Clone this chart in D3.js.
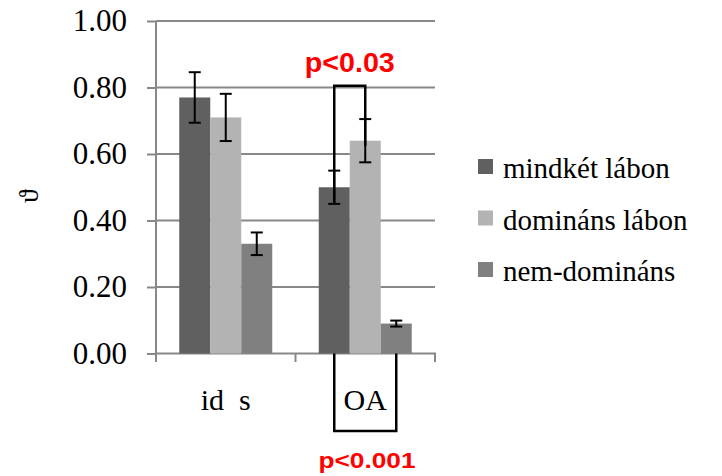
<!DOCTYPE html>
<html><head><meta charset="utf-8">
<script src="https://cdn.jsdelivr.net/npm/d3@7"></script>
</head><body style="margin:0">
<svg id="c" width="722" height="476"></svg>
<script>
const categories = ["id  s", "OA"];
const seriesNames = ["mindkét lábon", "domináns lábon", "nem-domináns"];
const seriesColors = ["#606060", "#b3b3b3", "#808080"];
const values = [[0.77, 0.71, 0.33], [0.50, 0.64, 0.09]];
const errors = [[0.076, 0.071, 0.034], [0.05, 0.065, 0.009]];
const yTicks = [0, 0.2, 0.4, 0.6, 0.8, 1.0];
const yLabel = "\u03d1";

const svg = d3.select("#c");
const y = d3.scaleLinear().domain([0, 1]).range([353.5, 21]);
const x = d3.scaleBand().domain(categories).range([156, 435]).padding(0);
const x1 = d3.scaleBand().domain(d3.range(3)).range([0, x.bandwidth()]).paddingInner(0).paddingOuter(0.75);

// gridlines
svg.append("g").selectAll("line").data(yTicks.filter(d => d > 0)).join("line")
  .attr("x1", 156).attr("x2", 435).attr("y1", d => y(d)).attr("y2", d => y(d))
  .attr("stroke", "#888").attr("stroke-width", 2);

// y axis
const ya = svg.append("g").attr("transform", "translate(156,0)")
  .call(d3.axisLeft(y).tickValues(yTicks).tickSize(9).tickPadding(20).tickFormat(d3.format(".2f")));
ya.attr("font-family", null).attr("font-size", null);
ya.select(".domain").remove();
ya.selectAll(".tick line").attr("stroke", "#888").attr("stroke-width", 2);
ya.selectAll(".tick text").attr("fill", "#000").attr("font-family", () => "Liberation Serif").attr("font-size", 31);
svg.append("line").attr("x1", 156).attr("x2", 156).attr("y1", y(1)).attr("y2", 362)
  .attr("stroke", "#888").attr("stroke-width", 2);

// x axis
svg.append("line").attr("x1", 155).attr("x2", 436).attr("y1", y(0)).attr("y2", y(0))
  .attr("stroke", "#888").attr("stroke-width", 2);
const bounds = categories.slice(1).map(c => x(c)).concat([x.range()[1]]);
svg.append("g").selectAll("line").data(bounds).join("line")
  .attr("x1", d => d).attr("x2", d => d)
  .attr("y1", y(0)).attr("y2", 362).attr("stroke", "#888").attr("stroke-width", 2);
svg.append("g").selectAll("text").data(categories).join("text")
  .attr("font-family", "Times New Roman").attr("font-size", 30)
  .attr("x", d => x(d) + x.bandwidth() / 2).attr("y", 410)
  .attr("text-anchor", "middle")
  .attr("xml:space", "preserve")
  .text(d => d);

// bars
const groups = svg.append("g").selectAll("g").data(categories).join("g")
  .attr("transform", d => `translate(${x(d)},0)`);
groups.selectAll("rect").data((d, i) => values[i].map((v, j) => ({v, j}))).join("rect")
  .attr("x", d => x1(d.j)).attr("width", x1.bandwidth())
  .attr("y", d => y(d.v)).attr("height", d => y(0) - y(d.v))
  .attr("fill", d => seriesColors[d.j]);

// error bars
groups.each(function(c, i) {
  const g = d3.select(this);
  values[i].forEach((v, j) => {
    const cx = x1(j) + x1.bandwidth() / 2, e = errors[i][j];
    g.append("line").attr("x1", cx).attr("x2", cx).attr("y1", y(v + e)).attr("y2", y(v - e)).attr("stroke", "#000").attr("stroke-width", 2);
    [v + e, v - e].forEach(t => g.append("line").attr("x1", cx - 6).attr("x2", cx + 6).attr("y1", y(t)).attr("y2", y(t)).attr("stroke", "#000").attr("stroke-width", 2));
  });
});

// significance brackets
const cxOf = (ci, j) => x(categories[ci]) + x1(j) + x1.bandwidth() / 2;
const br = svg.append("g").attr("stroke", "#000").attr("stroke-width", 2.5).attr("fill", "none");
br.append("path").attr("d", `M${cxOf(1,0)},${y(0.45)}V${y(0.805)}H${cxOf(1,1)}V${y(0.625)}`);
br.append("path").attr("d", `M${cxOf(1,0)},${y(0)}V431H${cxOf(1,2)}V${y(0)}`);
svg.append("text").attr("font-family", "Liberation Sans").attr("x", (cxOf(1,0) + cxOf(1,1)) / 2).attr("y", 72).attr("text-anchor", "middle")
  .attr("font-weight", "bold").attr("font-size", 27).attr("fill", "#ff0000")
  .attr("textLength", 90).attr("lengthAdjust", "spacingAndGlyphs").text("p<0.03");
svg.append("text").attr("font-family", "Liberation Sans").attr("x", 367).attr("y", 468).attr("text-anchor", "middle")
  .attr("font-weight", "bold").attr("font-size", 22).attr("fill", "#ff0000")
  .attr("textLength", 97).attr("lengthAdjust", "spacingAndGlyphs").text("p<0.001");

// y label
svg.append("text").attr("font-family", "serif").attr("font-size", 28)
  .attr("transform", "translate(38,196) rotate(-90)").attr("text-anchor", "middle")
  .text(yLabel);

// legend
const lg = svg.append("g").selectAll("g").data(seriesNames).join("g")
  .attr("transform", (d, i) => `translate(478,${159 + i * 51.5})`);
lg.append("rect").attr("width", 15).attr("height", 15).attr("fill", (d, i) => seriesColors[i]);
lg.append("text").style("font-family", "'Liberation Serif', serif", "important").attr("font-size", 29).attr("x", 25).attr("y", 19).text(d => d);
</script>
</body></html>
